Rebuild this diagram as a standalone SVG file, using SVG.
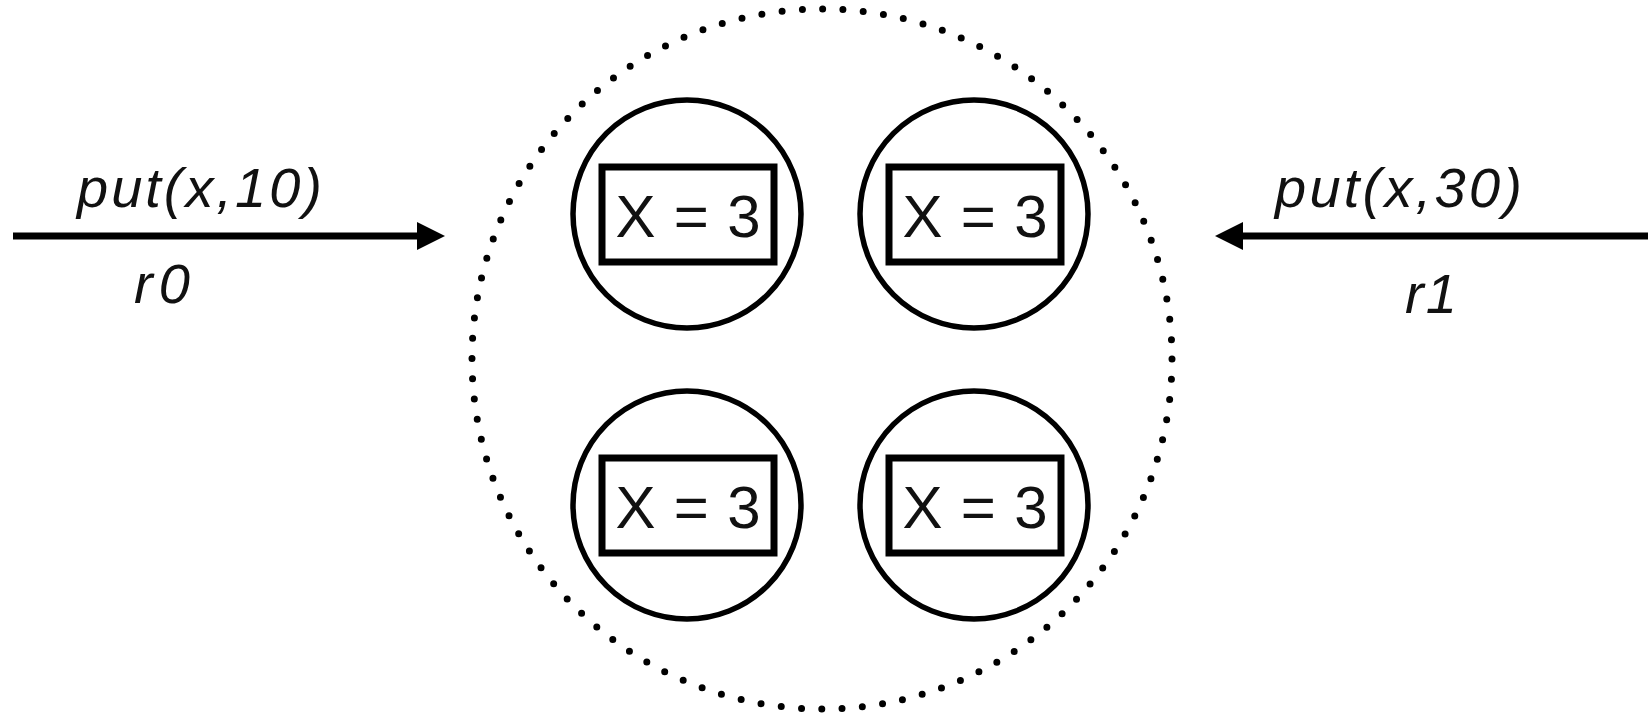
<svg xmlns="http://www.w3.org/2000/svg" width="1648" height="718" viewBox="0 0 1648 718">
<style>
.replica{fill:none;stroke:#000;stroke-width:5.5}
.box{fill:none;stroke:#000;stroke-width:7}
.val{font-family:"Liberation Sans",Arial,sans-serif;font-size:60px;fill:#111;text-anchor:middle}
.lbl{font-family:"Liberation Sans",Arial,sans-serif;font-size:56px;font-style:italic;fill:#111}
.wire{stroke:#000;stroke-width:7;fill:none}
</style>
<rect width="1648" height="718" fill="#fff"/>
<g id="cluster">
<circle cx="822" cy="359" r="350" fill="none" stroke="#000" stroke-width="7" stroke-linecap="round" stroke-dasharray="0 20.362"/>
</g>
<g id="node-tl">
<circle class="replica" cx="687" cy="214" r="114"/>
<rect class="box" x="602" y="167" width="172" height="95"/>
<text class="val" x="688" y="237" textLength="145" lengthAdjust="spacing">X = 3</text>
</g>
<g id="node-tr">
<circle class="replica" cx="974" cy="214" r="114"/>
<rect class="box" x="889" y="167" width="172" height="95"/>
<text class="val" x="975" y="237" textLength="145" lengthAdjust="spacing">X = 3</text>
</g>
<g id="node-bl">
<circle class="replica" cx="687" cy="505" r="114"/>
<rect class="box" x="602" y="458" width="172" height="95"/>
<text class="val" x="688" y="528" textLength="145" lengthAdjust="spacing">X = 3</text>
</g>
<g id="node-br">
<circle class="replica" cx="974" cy="505" r="114"/>
<rect class="box" x="889" y="458" width="172" height="95"/>
<text class="val" x="975" y="528" textLength="145" lengthAdjust="spacing">X = 3</text>
</g>
<g id="connectors">
<line class="wire" x1="13" y1="236" x2="418" y2="236"/>
<polygon points="417,222 445,236 417,250" fill="#000"/>
<line class="wire" x1="1242" y1="236" x2="1648" y2="236"/>
<polygon points="1243,222 1215,236 1243,250" fill="#000"/>
<text class="lbl" x="77" y="207" textLength="245" lengthAdjust="spacing">put(x,10)</text>
<text class="lbl" x="134" y="303" textLength="56" lengthAdjust="spacing">r0</text>
<text class="lbl" x="1275" y="207" textLength="247" lengthAdjust="spacing">put(x,30)</text>
<text class="lbl" x="1405" y="313" textLength="52" lengthAdjust="spacing">r1</text>
</g>
</svg>
